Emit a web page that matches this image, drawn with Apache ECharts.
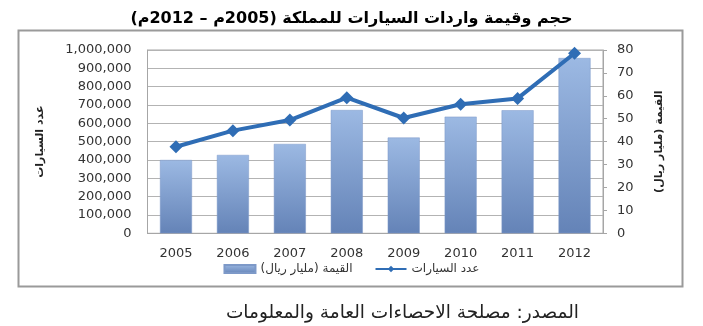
<!DOCTYPE html>
<html>
<head>
<meta charset="utf-8">
<script src="https://cdn.jsdelivr.net/npm/echarts@6/dist/echarts.min.js"></script>
<style>
html,body{margin:0;padding:0;background:#fff;}
#chart{width:703px;height:326px;}
</style>
</head>
<body>
<div id="chart"></div>
<script>
const categories = ['2005','2006','2007','2008','2009','2010','2011','2012'];
// القيمة (مليار ريال) - bars, right axis
const valueBillions = [32, 34.2, 39, 53.8, 41.8, 50.9, 53.7, 76.5];
// عدد السيارات - line, left axis
const carCount = [472000, 560000, 618000, 740000, 629000, 704000, 736000, 982000];
const leftTicks = [0, 100000, 1000000];
const rightTicks = [0, 10, 80];

const titleText = 'حجم وقيمة واردات السيارات للمملكة (2005م – 2012م)';
const sourceText = 'المصدر: مصلحة الاحصاءات العامة والمعلومات';
const barName = 'القيمة (مليار ريال)';
const lineName = 'عدد السيارات';

const FONT = "'DejaVu Sans', sans-serif";
const chart = echarts.init(document.getElementById('chart'), null, {renderer: 'canvas'});
chart.setOption({
  backgroundColor: '#ffffff',
  animation: false,
  textStyle: {fontFamily: FONT},
  title: [
    {text: titleText, left: 'center', top: 6,
     textStyle: {fontFamily: FONT, fontSize: 16, fontWeight: 'bold', color: '#000'}},
    {text: sourceText, right: 119, top: 299,
     textStyle: {fontFamily: FONT, fontSize: 18.5, fontWeight: 'normal', color: '#222'}}
  ],
  grid: {left: 147.5, right: 100, top: 50, bottom: 92.7, show: true,
         borderColor: '#a6a6a6', borderWidth: 1, containLabel: false},
  legend: {
    left: 'center', top: 258, itemWidth: 31, itemHeight: 8, itemGap: 22,
    textStyle: {fontFamily: FONT, fontSize: 12, color: '#333'},
    data: [{name: barName, icon: 'rect'}, {name: lineName}]
  },
  xAxis: {type: 'category', data: categories,
     axisLine: {show: true, lineStyle: {color: '#a6a6a6'}},
     axisTick: {show: false},
     axisLabel: {fontFamily: FONT, fontSize: 13, color: '#333', margin: 14}},
  yAxis: [
    {type: 'value', min: leftTicks[0], max: leftTicks[2], interval: leftTicks[1],
     name: lineName, nameLocation: 'middle', nameRotate: 90, nameGap: 102,
     nameTextStyle: {fontFamily: FONT, fontSize: 11, fontWeight: 'bold', color: '#222'},
     axisLine: {show: true, lineStyle: {color: '#a6a6a6'}},
     axisTick: {show: false},
     splitLine: {show: true, lineStyle: {color: '#b3b3b3', width: 1}},
     axisLabel: {fontFamily: FONT, fontSize: 13, color: '#333', margin: 16,
       formatter: v => v.toLocaleString('en-US')}},
    {type: 'value', position: 'right', min: rightTicks[0], max: rightTicks[2], interval: rightTicks[1],
     name: barName, nameLocation: 'middle', nameRotate: 90, nameGap: 51,
     nameTextStyle: {fontFamily: FONT, fontSize: 11, fontWeight: 'bold', color: '#222'},
     axisLine: {show: true, lineStyle: {color: '#a6a6a6'}},
     axisTick: {show: true, length: 4, lineStyle: {color: '#a6a6a6'}},
     splitLine: {show: false},
     axisLabel: {fontFamily: FONT, fontSize: 13, color: '#333', margin: 14}}
  ],
  series: [
    {name: barName, type: 'bar', yAxisIndex: 1, data: valueBillions, barWidth: 32,
     itemStyle: {
       color: new echarts.graphic.LinearGradient(0, 0, 0, 1, [
         {offset: 0, color: '#9cb9e3'}, {offset: 1, color: '#6483b7'}]),
       borderColor: '#7d99c8', borderWidth: 0.5
     },
     z: 2},
    {name: lineName, type: 'line', yAxisIndex: 0, data: carCount,
     symbol: 'diamond', symbolSize: 13,
     lineStyle: {color: '#2f6db5', width: 4},
     itemStyle: {color: '#2f6db5'},
     z: 3}
  ]
});
// outer chart frame (decoration)
const frame = new echarts.graphic.Rect({
  shape: {x: 18.5, y: 30.5, width: 664, height: 256},
  style: {fill: 'none', stroke: '#9a9a9a', lineWidth: 2},
  silent: true, z: 100
});
chart.getZr().add(frame);
</script>
</body>
</html>
